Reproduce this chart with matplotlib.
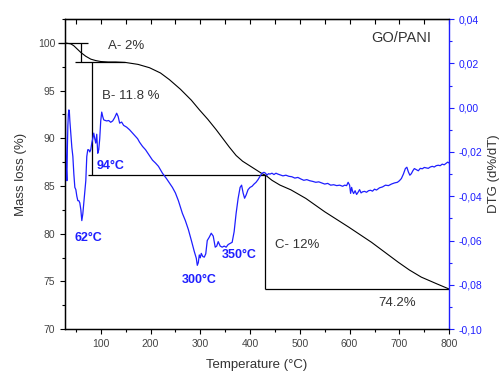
import matplotlib.pyplot as plt
from matplotlib.ticker import MultipleLocator, FuncFormatter

plt.rcParams['font.family'] = ['Liberation Sans', 'DejaVu Sans']

BLUE = '#1e1eff'
GREY = '#333333'

# TGA mass loss curve (%)
tga_temp = [28, 40, 46, 52, 60, 70, 80, 90, 100, 115, 130, 150, 175, 198, 220, 238,
            260, 282, 298, 315, 332, 345, 358, 372, 385, 400, 412, 424, 432, 444,
            460, 482, 512, 550, 598, 644, 698, 720, 744, 775, 800]
tga_mass = [100.0, 99.9, 99.7, 99.4, 99.0, 98.6, 98.3, 98.15, 98.05, 98.0, 98.0, 97.95,
            97.75, 97.4, 96.85, 96.15, 95.15, 94.0, 93.0, 92.0, 90.9, 90.0, 89.1, 88.2,
            87.6, 87.1, 86.7, 86.3, 86.1, 85.6, 85.1, 84.6, 83.7, 82.3, 80.7, 79.1,
            77.0, 76.2, 75.45, 74.75, 74.2]

# DTG curve (d%/dT), as (temperature, value) pairs
dtg_points = [
    (28, 0.045), (28.5, 0.020), (29, 0.0), (30, -0.020), (31, -0.028), (32, -0.033),
    (33, -0.018), (34, -0.008), (35, -0.003), (36, -0.001), (37, -0.002), (38, -0.006),
    (40, -0.012), (42, -0.018), (44, -0.022), (46, -0.030), (48, -0.036), (50, -0.037),
    (52, -0.040), (54, -0.042), (56, -0.042), (58, -0.043), (60, -0.046), (62, -0.051),
    (64, -0.048), (66, -0.043), (68, -0.038), (70, -0.033), (72, -0.022), (74, -0.019),
    (76, -0.019), (78, -0.020), (80, -0.019), (82, -0.016), (84, -0.014), (86, -0.0115),
    (88, -0.014), (90, -0.016), (92, -0.012), (94, -0.0206), (96, -0.019), (98, -0.014),
    (100, -0.006), (102, -0.002), (104, -0.004), (106, -0.0055), (108, -0.0057),
    (112, -0.006), (116, -0.0058), (120, -0.0066), (124, -0.006), (128, -0.0045),
    (132, -0.0025), (135, -0.004), (138, -0.007), (142, -0.0065), (146, -0.008),
    (152, -0.0088), (158, -0.010), (164, -0.0115), (168, -0.0125), (174, -0.014),
    (178, -0.0156), (184, -0.0175), (190, -0.019), (196, -0.021), (204, -0.0237),
    (210, -0.025), (216, -0.0265), (224, -0.0296), (232, -0.032), (238, -0.034),
    (244, -0.036), (250, -0.0385), (256, -0.042), (264, -0.0477), (270, -0.051),
    (276, -0.055), (282, -0.0599), (288, -0.065), (292, -0.068), (294, -0.0712),
    (296, -0.0700), (298, -0.0665), (300, -0.0678), (302, -0.0658), (305, -0.0672),
    (308, -0.0675), (311, -0.066), (314, -0.060), (318, -0.0585), (322, -0.0567),
    (326, -0.058), (330, -0.063), (333, -0.0625), (336, -0.0605), (340, -0.0625),
    (344, -0.063), (348, -0.0625), (352, -0.0630), (356, -0.0618), (360, -0.0613),
    (364, -0.0608), (368, -0.0560), (372, -0.0477), (376, -0.041), (380, -0.036),
    (383, -0.035), (386, -0.0385), (389, -0.0409), (392, -0.0395), (396, -0.037),
    (400, -0.036), (404, -0.0355), (408, -0.0345), (412, -0.0337), (416, -0.0325),
    (420, -0.031), (424, -0.0296), (428, -0.0292), (431, -0.0296), (434, -0.0305),
    (437, -0.0298), (440, -0.0300), (444, -0.0296), (448, -0.0302), (452, -0.0296),
    (456, -0.0300), (460, -0.0303), (466, -0.0308), (472, -0.0305), (478, -0.0310),
    (484, -0.0312), (490, -0.0318), (496, -0.0315), (502, -0.0322), (508, -0.0328),
    (514, -0.0325), (520, -0.0330), (526, -0.0333), (532, -0.0337), (538, -0.0335),
    (544, -0.0340), (550, -0.0345), (556, -0.0342), (562, -0.0350), (568, -0.0348),
    (574, -0.0352), (580, -0.0350), (586, -0.0355), (590, -0.0350), (594, -0.0352),
    (597, -0.0337), (600, -0.0350), (602, -0.0387), (604, -0.0360), (606, -0.0378),
    (608, -0.0388), (611, -0.0375), (614, -0.0392), (617, -0.0382), (620, -0.0370),
    (623, -0.0385), (626, -0.0380), (630, -0.0378), (634, -0.0382), (638, -0.0375),
    (642, -0.0373), (646, -0.0377), (650, -0.0368), (654, -0.0372), (660, -0.0362),
    (666, -0.0358), (672, -0.0350), (678, -0.0352), (684, -0.0345), (690, -0.0340),
    (696, -0.0337), (700, -0.0330), (704, -0.0320), (708, -0.0300), (712, -0.0275),
    (715, -0.0269), (718, -0.0290), (721, -0.0305), (724, -0.0298), (727, -0.0285),
    (730, -0.0275), (734, -0.0280), (738, -0.0285), (742, -0.0274), (746, -0.0276),
    (750, -0.0270), (754, -0.0272), (758, -0.0274), (762, -0.0268), (766, -0.0265),
    (770, -0.0268), (774, -0.0262), (778, -0.0260), (782, -0.0262), (786, -0.0255),
    (790, -0.0258), (794, -0.0251), (797, -0.0246), (800, -0.0250),
]
dtg_temp = [p[0] for p in dtg_points]
dtg_val = [p[1] for p in dtg_points]

x_ticks = [100, 200, 300, 400, 500, 600, 700, 800]
mass_ticks = [70, 75, 80, 85, 90, 95, 100]
dtg_ticks = [-0.10, -0.08, -0.06, -0.04, -0.02, 0.00, 0.02, 0.04]

# step annotations: mass levels and temperatures
step_a = (100.0, 98.0)
step_b = (98.0, 86.2)
step_c = (86.2, 74.2)
t_a, t_b, t_c = 60, 82, 430

fig = plt.figure(figsize=(5.03, 3.74), dpi=100)
ax = fig.add_axes([0.129, 0.120, 0.764, 0.829])
ax2 = ax.twinx()

ax.plot(tga_temp, tga_mass, color='black', lw=0.8, zorder=3)
ax2.plot(dtg_temp, dtg_val, color=BLUE, lw=0.9, zorder=2)

ax.set_xlim(28, 800)
ax.set_ylim(70, 102.5)
ax2.set_ylim(-0.10, 0.04)

# step lines
lw = 0.9
ax.hlines(step_a[0], 14, 74, color='black', lw=lw, clip_on=False)
ax.vlines(t_a, step_a[1], step_a[0], color='black', lw=lw)
ax.hlines(step_a[1], 48, 148, color='black', lw=lw)
ax.vlines(t_b, step_b[1], step_b[0], color='black', lw=lw)
ax.hlines(step_b[1], 74, t_c, color='black', lw=lw)
ax.vlines(t_c, step_c[1], step_c[0], color='black', lw=lw)
ax.hlines(step_c[1], t_c, 800, color='black', lw=lw)

ax.text(114, 99.7, 'A- 2%', fontsize=9.5, color=GREY, va='center')
ax.text(102, 94.4, 'B- 11.8 %', fontsize=9.5, color=GREY, va='center')
ax.text(450, 78.8, 'C- 12%', fontsize=9.5, color=GREY, va='center')
ax.text(658, 72.7, '74.2%', fontsize=9.5, color=GREY, va='center')
ax.text(764, 100.5, 'GO/PANI', fontsize=10.5, color=GREY, va='center', ha='right')

for label, tx, ty in [('94°C', 92, 87.1), ('62°C', 48, 79.6),
                      ('300°C', 262, 75.2), ('350°C', 344, 77.8)]:
    ax.text(tx, ty, label, fontsize=9, color=BLUE, fontweight='bold', va='center')

# axes styling
ax.set_xticks(x_ticks)
ax.xaxis.set_minor_locator(MultipleLocator(50))
ax.set_yticks(mass_ticks)
ax.yaxis.set_minor_locator(MultipleLocator(2.5))
ax.tick_params(axis='both', which='major', direction='out', length=3.5, width=0.8,
               labelsize=7.5, colors='black', labelcolor='#444444')
ax.tick_params(axis='both', which='minor', direction='out', length=2, width=0.8)

top = ax.secondary_xaxis('top')
top.set_xticks(x_ticks)
top.xaxis.set_minor_locator(MultipleLocator(50))
top.tick_params(which='both', direction='in', length=3.5, width=0.8, labeltop=False)

ax2.set_yticks(dtg_ticks)
ax2.yaxis.set_minor_locator(MultipleLocator(0.01))
ax2.yaxis.set_major_formatter(
    FuncFormatter(lambda v, p: f'{v:.2f}'.replace('.', ',').replace('-0,00', '0,00')))
ax2.tick_params(axis='y', which='major', direction='out', length=3.5, width=0.8,
                labelsize=7.5, colors=BLUE)
ax2.tick_params(axis='y', which='minor', direction='out', length=2, width=0.8, colors=BLUE)
ax2.spines['right'].set_color(BLUE)
ax2.spines['right'].set_linewidth(1.0)
for sp in ['left', 'bottom', 'top']:
    ax.spines[sp].set_linewidth(1.0)
ax.spines['right'].set_visible(False)

ax.set_xlabel('Temperature (°C)', fontsize=9.5, color=GREY, labelpad=7)
ax.set_ylabel('Mass loss (%)', fontsize=9.5, color=GREY, labelpad=8)
ax2.set_ylabel('DTG (d%/dT)', fontsize=9.5, color=GREY, labelpad=4)

fig.savefig('out.png', dpi=100)
